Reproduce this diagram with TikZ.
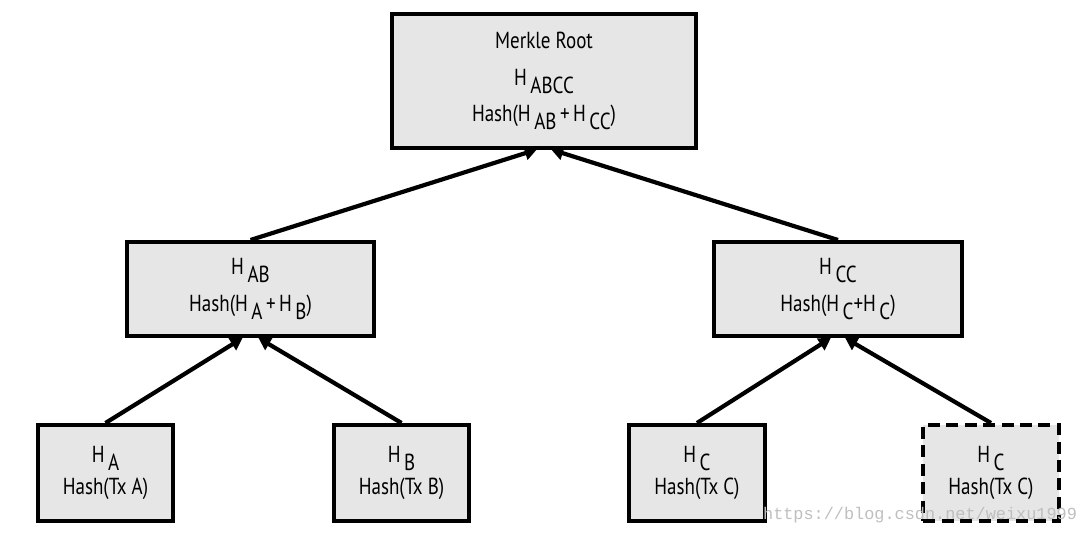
\documentclass[tikz,border=0pt]{standalone}
\usepackage{fontspec}
\setmainfont[FakeStretch=0.82]{PT Sans}
\newfontfamily\wmfont{Liberation Mono}
\usetikzlibrary{arrows.meta}
\definecolor{boxgray}{HTML}{E6E6E6}
\newcommand{\hs}[1]{H\kern2.5pt\raisebox{-0.7ex}{#1}}
\tikzset{
  hashbox/.style={draw,line width=0.1cm,fill=boxgray,align=center,inner sep=0pt,
    font=\fontsize{16.5}{26}\selectfont},
  leafbox/.style={hashbox,minimum width=3.375cm,minimum height=2.4cm,
    font=\fontsize{16.5}{23}\selectfont},
  midbox/.style={hashbox,minimum width=6.175cm,minimum height=2.35cm},
  uparrow/.style={line width=0.105cm,-{Triangle[length=0.3cm,width=0.34cm]}}
}
\begin{document}
\begin{tikzpicture}[x=0.025cm,y=-0.025cm]
  \useasboundingbox (0,0) rectangle (1092,536);
  % root
  \node[hashbox,minimum width=7.6cm,minimum height=3.325cm] (root) at (544,81)
    {Merkle Root\\\hs{ABCC}\\Hash(\hs{AB}\kern2.5pt+\kern2.5pt\hs{CC})};
  % second level
  \node[midbox] (hab) at (250.5,289) {\hs{AB}\\Hash(\hs{A}\kern2.5pt+\kern2.5pt\hs{B})};
  \node[midbox] (hcc) at (838,289) {\hs{CC}\\Hash(\hs{C}+\hs{C})};
  % leaves
  \node[leafbox] (ha) at (105.5,473) {\hs{A}\\Hash(Tx A)};
  \node[leafbox] (hb) at (401.5,473) {\hs{B}\\Hash(Tx B)};
  \node[leafbox] (hc) at (697,473) {\hs{C}\\Hash(Tx C)};
  \node[leafbox,dash pattern=on 0.3cm off 0.16cm] (hcdup) at (991,473) {\hs{C}\\Hash(Tx C)};
  % arrows
  \draw[uparrow] (ha.north) -- ([xshift=-0.2cm]hab.south);
  \draw[uparrow] (hb.north) -- ([xshift=0.2cm]hab.south);
  \draw[uparrow] (hc.north) -- ([xshift=-0.18cm]hcc.south);
  \draw[uparrow] (hcdup.north) -- ([xshift=0.18cm]hcc.south);
  \draw[uparrow] (hab.north) -- ([xshift=-0.18cm]root.south);
  \draw[uparrow] (hcc.north) -- ([xshift=0.18cm]root.south);
  % watermark
  \node[text=black!25,font=\wmfont\fontsize{12}{12}\selectfont,anchor=east] (wm) at (1082,515)
    {https://blog.csdn.net/weixu1999};
\end{tikzpicture}
\end{document}
